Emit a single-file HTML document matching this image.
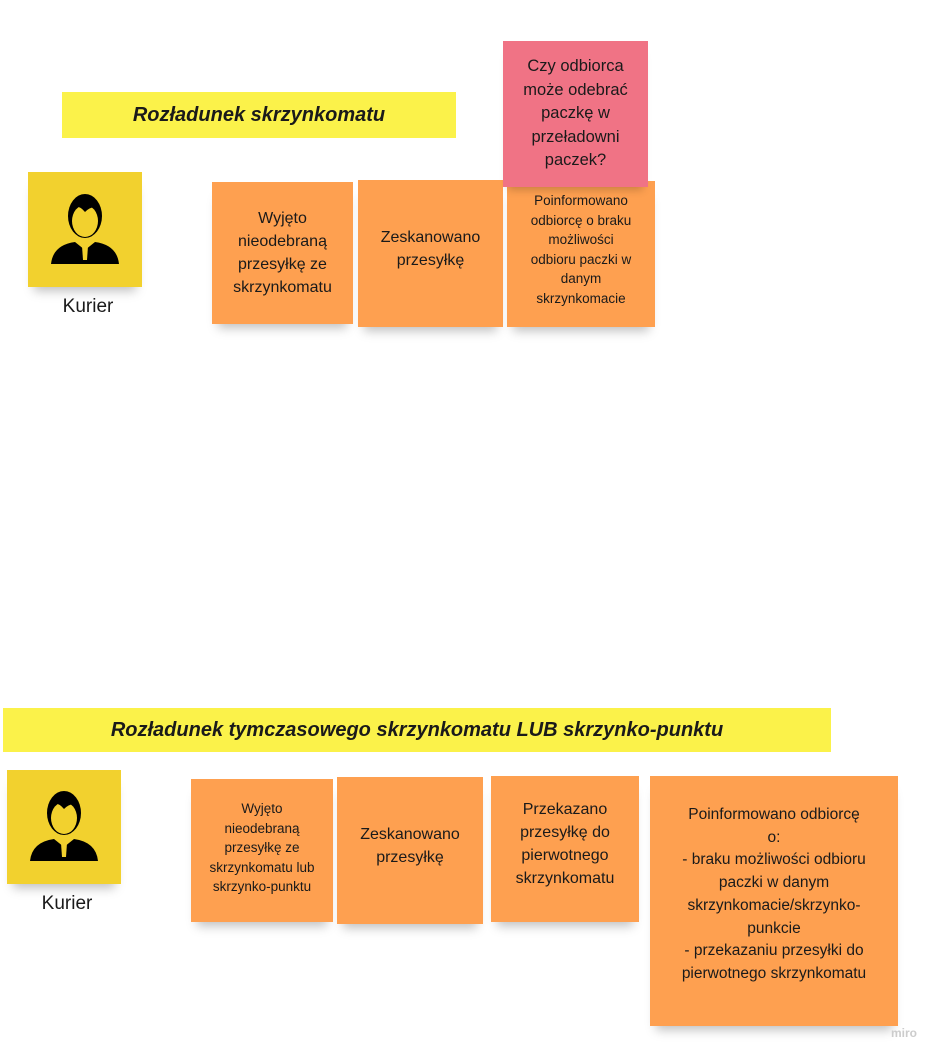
<!DOCTYPE html>
<html><head><meta charset="utf-8"><style>
body{margin:0;width:943px;height:1060px;background:#fff;position:relative;overflow:hidden;font-family:"Liberation Sans",sans-serif;color:#1a1a1a}
.n{position:absolute;display:flex;align-items:center;justify-content:center;text-align:center;box-sizing:border-box;padding:4px}
.o{background:#fea050;box-shadow:0 10px 10px -6px rgba(0,0,0,.25)}
.y{background:#f2d12e;box-shadow:0 10px 10px -6px rgba(0,0,0,.25)}
.t{position:absolute;background:#fbf24a;display:flex;align-items:center;justify-content:center;font-weight:bold;font-style:italic;font-size:20px}
.k{position:absolute;font-size:19px;width:120px;text-align:center}
</style></head><body>
<div class="t" style="left:62px;top:92px;width:394px;height:46px">Rozładunek skrzynkomatu</div>
<div class="n y" style="left:28px;top:172px;width:114px;height:115px">
<svg width="80" height="80" viewBox="0 0 80 80"><ellipse cx="40" cy="26" rx="17" ry="22" fill="#000"/><ellipse cx="40" cy="31" rx="13" ry="16" fill="#f2d12e"/><path d="M24 20 Q40 2 56 20 Q48 14 40 22 Q32 12 24 20Z" fill="#000"/><path d="M6 74 Q8 55 30 52 L40 60 L50 52 Q72 55 74 74Z" fill="#000"/><path d="M37 56 L43 56 L42 70 L38 70Z" fill="#f2d12e"/></svg></div>
<div class="k" style="left:28px;top:296px">Kurier</div>
<div class="n o" style="left:212px;top:182px;width:141px;height:142px;font-size:16px;line-height:23px">Wyjęto<br>nieodebraną<br>przesyłkę ze<br>skrzynkomatu</div>
<div class="n o" style="left:358px;top:180px;width:145px;height:147px;font-size:16px;line-height:23px;align-items:flex-start;padding-top:46px">Zeskanowano<br>przesyłkę</div>
<div class="n o" style="left:507px;top:181px;width:148px;height:146px;font-size:13.5px;line-height:19.5px;align-items:flex-start;padding-top:10px">Poinformowano<br>odbiorcę o braku<br>możliwości<br>odbioru paczki w<br>danym<br>skrzynkomacie</div>
<div class="n" style="left:503px;top:41px;width:145px;height:146px;background:#f07385;font-size:16.5px;line-height:23.5px;box-shadow:0 8px 8px -5px rgba(0,0,0,.2)">Czy odbiorca<br>może odebrać<br>paczkę w<br>przeładowni<br>paczek?</div>

<div class="t" style="left:3px;top:708px;width:828px;height:44px">Rozładunek tymczasowego skrzynkomatu LUB skrzynko-punktu</div>
<div class="n y" style="left:7px;top:770px;width:114px;height:114px">
<svg width="80" height="80" viewBox="0 0 80 80"><ellipse cx="40" cy="26" rx="17" ry="22" fill="#000"/><ellipse cx="40" cy="31" rx="13" ry="16" fill="#f2d12e"/><path d="M24 20 Q40 2 56 20 Q48 14 40 22 Q32 12 24 20Z" fill="#000"/><path d="M6 74 Q8 55 30 52 L40 60 L50 52 Q72 55 74 74Z" fill="#000"/><path d="M37 56 L43 56 L42 70 L38 70Z" fill="#f2d12e"/></svg></div>
<div class="k" style="left:7px;top:893px">Kurier</div>
<div class="n o" style="left:191px;top:779px;width:142px;height:143px;font-size:13.5px;line-height:19.5px;align-items:flex-start;padding-top:20px">Wyjęto<br>nieodebraną<br>przesyłkę ze<br>skrzynkomatu lub<br>skrzynko-punktu</div>
<div class="n o" style="left:337px;top:777px;width:146px;height:147px;font-size:16px;line-height:23px;align-items:flex-start;padding-top:46px">Zeskanowano<br>przesyłkę</div>
<div class="n o" style="left:491px;top:776px;width:148px;height:146px;font-size:16px;line-height:23px;align-items:flex-start;padding-top:22px">Przekazano<br>przesyłkę do<br>pierwotnego<br>skrzynkomatu</div>
<div class="n o" style="left:650px;top:776px;width:248px;height:250px;font-size:15.5px;line-height:22.7px;align-items:flex-start;padding-top:28px">Poinformowano odbiorcę<br>o:<br>- braku możliwości odbioru<br>paczki w danym<br>skrzynkomacie/skrzynko-<br>punkcie<br>- przekazaniu przesyłki do<br>pierwotnego skrzynkomatu</div>
<div style="position:absolute;left:891px;top:1026px;font-size:12px;color:#ccc;font-weight:bold">miro</div>
</body></html>
